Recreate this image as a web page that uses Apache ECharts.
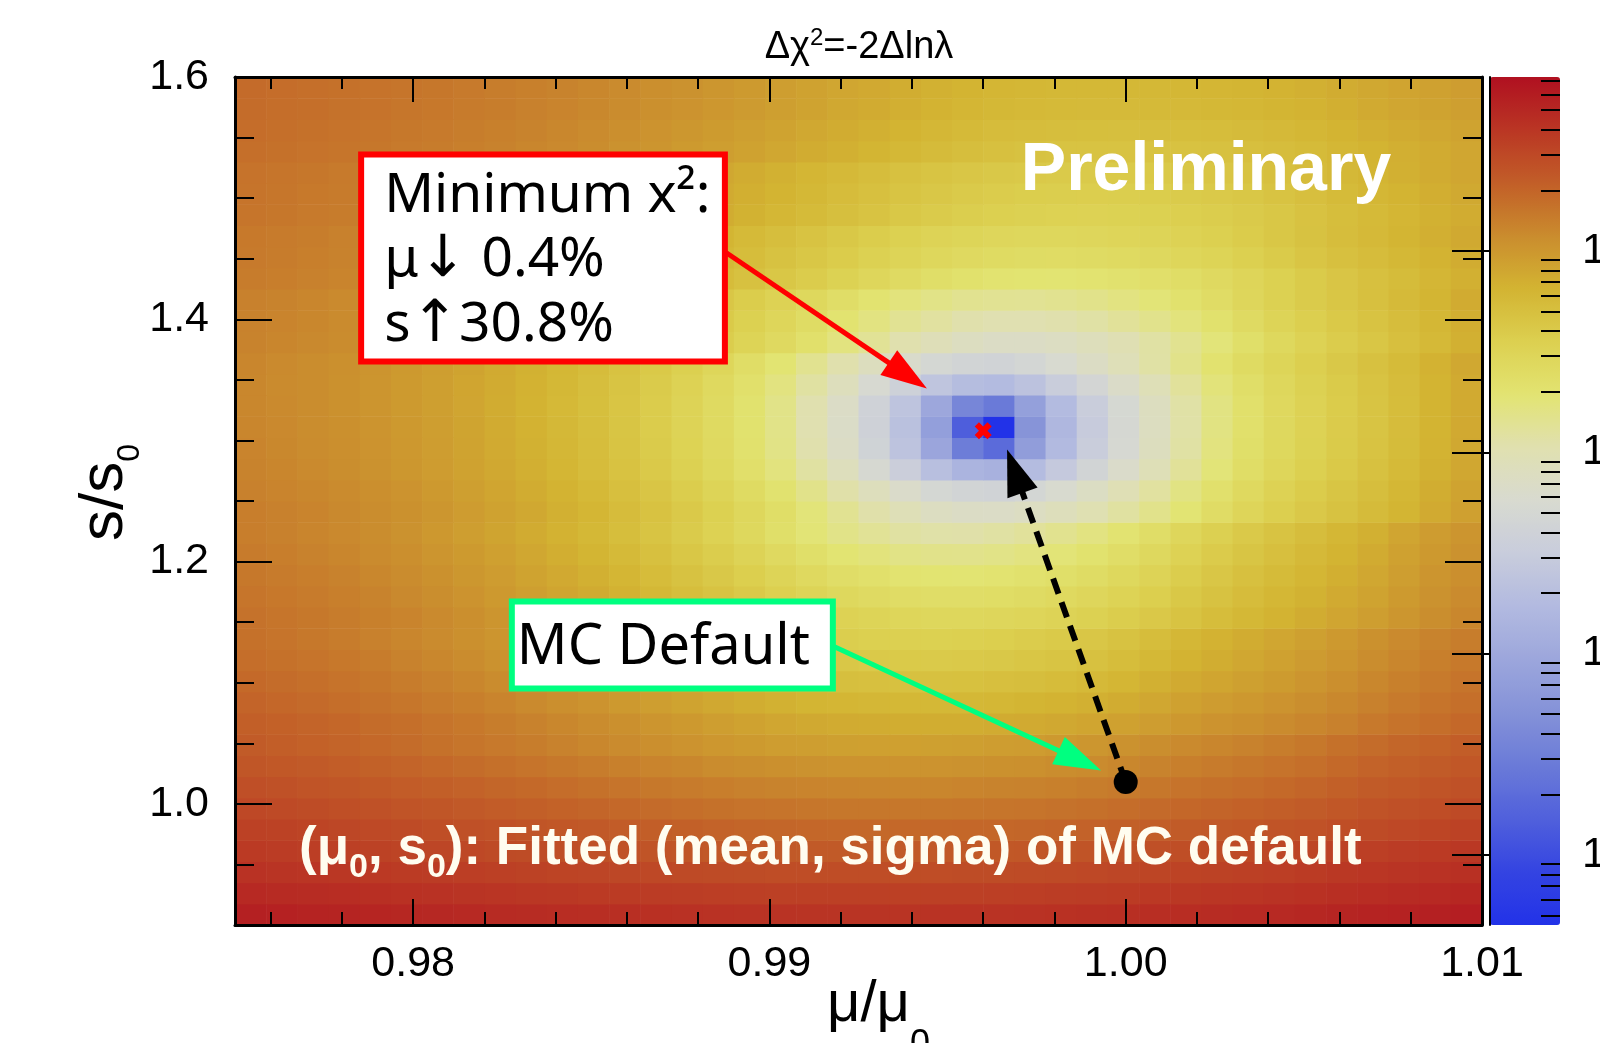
<!DOCTYPE html>
<html><head><meta charset="utf-8">
<script src="https://cdn.jsdelivr.net/npm/echarts@6/dist/echarts.min.js"></script>
<style>html,body{margin:0;padding:0;background:#fff}#c{width:1600px;height:1043px}</style>
</head><body><div id="c"></div><script>
// ---------------- data ----------------
const muRange = [0.975, 1.01];       // mu/mu0 axis range (40 bins)
const sRange = [0.9, 1.6];           // s/s0 axis range (40 bins)
const nMuBins = 40, nSBins = 40;
const xMajorTicks = [0.98, 0.99, 1.00, 1.01];
const xMinorTicks = [0.976, 0.978, 0.982, 0.984, 0.986, 0.988, 0.992, 0.994, 0.996, 0.998, 1.002, 1.004, 1.006, 1.008];
const yMajorTicks = [1.0, 1.2, 1.4, 1.6];
const yMinorTicks = [0.95, 1.05, 1.1, 1.15, 1.25, 1.3, 1.35, 1.45, 1.5, 1.55];
const zRangeLog10 = [1.652, 5.864];  // colour scale (log10 of delta chi2)
const zMajorExp = [2, 3, 4, 5];
const zMinorTicks = [50,60,70,80,90, 200,300,400,500,600,700,800,900, 2000,3000,4000,5000,6000,7000,8000,9000,
  20000,30000,40000,50000,60000,70000,80000,90000, 200000,300000,400000,500000,600000,700000];
const fitMinimum = [0.996, 1.308];
const mcDefault = [1.0, 1.018];
// delta chi2 per cell, row 0 = lowest s/s0 bin, column 0 = lowest mu/mu0 bin
const chi2Rows = [
[565000,555000,544000,532000,521000,510000,499000,489000,479000,470000,460000,452000,444000,436000,429000,424000,420000,417000,415000,414000,414000,415000,416000,418000,421000,425000,431000,438000,446000,454000,462000,470000,480000,492000,508000,524000,538000,552000,567000,581000],
[489000,479000,468000,457000,446000,435000,424000,414000,405000,395000,386000,378000,370000,363000,356000,351000,347000,344000,342000,341000,341000,342000,343000,345000,348000,352000,357000,364000,372000,380000,388000,396000,406000,417000,433000,449000,463000,477000,491000,505000],
[425000,415000,405000,394000,383000,372000,362000,352000,342000,333000,324000,316000,309000,302000,295000,289000,285000,283000,281000,280000,280000,281000,282000,284000,287000,291000,296000,303000,311000,318000,326000,334000,344000,355000,370000,386000,399000,413000,427000,441000],
[373000,364000,354000,343000,332000,322000,311000,302000,292000,284000,275000,266000,259000,252000,245000,240000,236000,234000,232000,231000,231000,232000,233000,235000,238000,242000,247000,254000,261000,269000,276000,284000,294000,305000,320000,335000,348000,362000,376000,389000],
[339000,330000,321000,310000,300000,289000,279000,269000,259000,250000,242000,233000,225000,217000,211000,204000,199000,195000,193000,191000,190000,190000,191000,192000,194000,197000,200000,205000,212000,219000,227000,234000,242000,252000,262000,277000,292000,305000,318000,332000],
[303000,294000,285000,275000,264000,254000,244000,234000,225000,216000,207000,199000,191000,184000,177000,170000,165000,162000,159000,157000,157000,157000,157000,159000,160000,163000,167000,172000,178000,185000,193000,200000,208000,217000,228000,242000,256000,270000,283000,296000],
[272000,264000,255000,245000,235000,224000,215000,205000,196000,187000,179000,170000,162000,155000,149000,142000,138000,134000,132000,130000,129000,129000,129000,131000,133000,135000,139000,144000,150000,157000,164000,171000,179000,188000,199000,213000,227000,240000,253000,266000],
[247000,239000,230000,220000,210000,200000,191000,181000,172000,163000,155000,147000,139000,132000,126000,119000,115000,111000,109000,107000,106000,106000,107000,108000,110000,112000,116000,121000,127000,134000,141000,148000,156000,165000,175000,189000,203000,215000,228000,241000],
[226000,218000,209000,200000,190000,180000,170000,161000,152000,144000,135000,127000,120000,113000,107000,100000,95800,92200,90000,88200,87500,87300,88000,89200,91100,93600,97000,102000,108000,115000,122000,129000,136000,145000,155000,169000,182000,195000,207000,220000],
[216000,208000,200000,192000,182000,173000,163000,154000,144000,135000,127000,119000,111000,104000,97100,90900,84800,80200,76700,74500,72800,72000,71900,72500,73700,75600,78000,81400,86000,92200,98900,106000,112000,120000,128000,138000,152000,165000,177000,190000],
[201000,193000,186000,177000,168000,158000,149000,140000,131000,122000,114000,106000,97900,90600,84000,77900,71900,67500,63900,61800,60100,59400,59200,59800,61100,62900,65300,68600,73100,79200,85800,92500,99100,106000,115000,125000,138000,151000,163000,175000],
[188000,181000,173000,165000,156000,146000,137000,128000,119000,110000,102000,94500,86800,79600,73100,67100,61200,56800,53300,51200,49500,48800,48700,49300,50500,52300,54600,57900,62400,68300,74900,81400,88000,95100,103000,113000,126000,139000,151000,163000],
[177000,170000,163000,154000,146000,136000,127000,118000,109000,101000,92800,85200,77600,70500,64100,58300,52400,48100,44700,42600,41000,40300,40100,40700,41900,43700,46000,49200,53600,59400,65900,72300,78700,85800,94000,103000,116000,129000,141000,153000],
[170000,163000,155000,147000,138000,129000,120000,111000,103000,94400,86600,79100,71600,64700,58300,52600,46800,42500,39200,37100,35500,34800,34700,35300,36400,38200,40500,43600,48000,53700,60100,66400,72700,79700,87700,97000,110000,122000,134000,145000],
[168000,161000,155000,147000,139000,131000,122000,113000,104000,95500,87300,79600,72200,64900,58000,51800,46100,40400,36300,33000,30900,29300,28700,28500,29100,30200,32000,34200,37300,41600,47200,53500,59700,66000,72800,80800,89800,102000,115000,126000],
[161000,154000,148000,140000,133000,124000,115000,106000,97900,89500,81500,73900,66600,59300,52600,46400,40800,35200,31100,27900,25800,24300,23600,23500,24100,25200,26900,29100,32100,36400,42000,48100,54300,60400,67100,75000,83900,96200,108000,120000],
[155000,148000,142000,135000,127000,119000,110000,101000,92600,84300,76400,68900,61700,54600,48000,41900,36400,30900,26800,23600,21700,20100,19500,19300,19900,21000,22700,24900,27800,32000,37500,43500,49600,55700,62300,70000,78800,90900,103000,114000],
[149000,142000,136000,129000,121000,113000,104000,95500,87300,79200,71400,64000,56900,49900,43300,37400,31900,26500,22500,19400,17400,15900,15300,15100,15700,16800,18400,20600,23500,27600,33000,39000,45000,50900,57500,65100,73700,85700,97600,108000],
[143000,137000,130000,123000,116000,108000,99100,90600,82500,74500,66800,59500,52500,45600,39100,33300,27900,22500,18600,15500,13600,12100,11400,11300,11900,12900,14500,16700,19600,23600,29000,34900,40800,46600,53100,60600,69100,80900,92700,103000],
[143000,137000,131000,124000,117000,110000,102000,93500,85000,77100,69200,61600,54400,47600,40700,34400,28500,23300,18000,14100,11100,9170,7680,7050,6950,7470,8530,10100,12200,15100,19000,24300,30100,35900,41700,48100,55500,63900,75500,87200],
[138000,132000,126000,120000,113000,106000,97900,89600,81300,73500,65700,58200,51100,44400,37600,31400,25600,20400,15200,11300,8330,6460,4990,4370,4270,4790,5830,7390,9480,12300,16300,21500,27200,32900,38700,44900,52200,60500,72000,83400],
[134000,128000,122000,115000,109000,101000,93700,85500,77300,69600,61900,54500,47500,40800,34200,28000,22400,17200,12100,8290,5320,3470,2020,1410,1310,1820,2850,4390,6450,9220,13100,18200,23900,29500,35200,41400,48500,56800,68100,79400],
[131000,125000,119000,113000,106000,99000,91400,83300,75200,67600,60000,52700,45800,39200,32600,26500,21000,15900,10800,7090,4150,2330,904,296,195,702,1720,3230,5260,8000,11800,16900,22500,28100,33600,39700,46800,54900,66000,77200],
[129000,123000,117000,111000,105000,97500,90000,82000,74000,66500,59000,51800,45000,38500,32000,26000,20500,15500,10500,6850,3950,2150,745,145,45,545,1550,3050,5050,7750,11500,16500,22000,27500,33000,39000,46000,54000,65000,76000],
[127000,122000,116000,110000,103000,96400,89000,81100,73200,65800,58400,51300,44600,38200,31800,25900,20500,15500,10600,6980,4120,2350,965,374,275,768,1750,3230,5210,7870,11600,16500,22000,27400,32800,38700,45600,53500,64400,75200],
[127000,121000,116000,110000,103000,96600,89300,81500,73800,66500,59200,52200,45600,39200,32900,27100,21700,16800,12000,8380,5550,3800,2440,1860,1760,2250,3220,4680,6630,9250,12900,17800,23200,28500,33900,39700,46500,54300,65000,75700],
[128000,122000,117000,111000,105000,97900,90800,83100,75400,68200,61000,54100,47500,41300,35000,29300,24000,19200,14400,10800,8010,6280,4940,4360,4270,4750,5700,7150,9070,11700,15300,20200,25400,30700,36000,41800,48500,56200,66700,77300],
[134000,129000,124000,118000,112000,106000,99500,92400,84800,77200,70100,63000,56200,49700,43500,37400,31700,26500,21700,17000,13500,10700,9020,7690,7120,7030,7500,8450,9880,11800,14300,17900,22700,27900,33100,38300,44000,50700,58200,68700],
[136000,131000,126000,120000,114000,108000,102000,94600,87100,79600,72600,65600,58800,52500,46400,40300,34700,29500,24800,20100,16700,13900,12300,10900,10400,10300,10800,11700,13100,15000,17500,21100,25800,30900,36100,41200,46800,53400,60900,71200],
[138000,133000,128000,122000,116000,110000,104000,97100,89700,82300,75300,68400,61700,55400,49400,43400,37900,32800,28100,23500,20100,17400,15700,14400,13900,13800,14300,15200,16600,18400,20900,24400,29100,34200,39200,44300,49900,56400,63800,73900],
[147000,142000,137000,132000,126000,121000,115000,109000,102000,94300,87000,80200,73300,66700,60500,54600,48600,43200,38100,33600,29000,25700,23000,21400,20100,19500,19400,19900,20800,22200,24000,26500,29900,34500,39500,44500,49600,55000,61400,68800],
[151000,146000,141000,136000,130000,125000,119000,113000,106000,98700,91500,84700,78000,71500,65300,59500,53600,48200,43200,38700,34200,30900,28300,26600,25400,24800,24700,25200,26100,27500,29300,31700,35100,39600,44600,49500,54500,59900,66200,73500],
[153000,148000,144000,138000,133000,128000,122000,116000,109000,102000,94500,87800,81100,74700,68600,62800,57000,51700,46800,42300,37900,34600,32000,30400,29200,28600,28500,29000,29900,31200,33000,35400,38800,43200,48100,53000,57900,63300,69500,76700],
[161000,156000,151000,147000,142000,136000,131000,125000,119000,112000,105000,98300,91700,85100,78700,72700,67000,61300,56000,51200,46800,42400,39100,36600,35000,33800,33200,33100,33600,34500,35800,37600,39900,43200,47600,52500,57300,62200,67500,73600],
[163000,158000,153000,149000,144000,138000,133000,128000,121000,115000,108000,101000,94400,87900,81600,75700,70000,64400,59100,54400,50000,45700,42500,39900,38400,37200,36600,36500,37000,37900,39200,40900,43300,46500,50900,55700,60500,65200,70500,76600],
[165000,160000,156000,151000,146000,141000,136000,130000,124000,118000,111000,104000,97400,90900,84700,78800,73200,67700,62500,57800,53400,49200,46000,43500,41900,40700,40200,40100,40600,41400,42700,44500,46800,50000,54300,59000,63800,68500,73700,79700],
[174000,170000,165000,160000,156000,151000,146000,141000,135000,129000,123000,116000,109000,103000,96600,90500,84700,79200,73600,68500,63800,59600,55400,52200,49800,48200,47000,46500,46400,46900,47700,49000,50700,53000,56200,60400,65100,69800,74500,79600],
[178000,173000,169000,164000,160000,155000,150000,145000,139000,133000,127000,120000,114000,107000,101000,94800,89100,83600,78100,73100,68500,64300,60100,56900,54500,53000,51800,51300,51200,51700,52500,53800,55500,57700,60900,65100,69700,74400,79000,84000],
[181000,177000,173000,168000,164000,159000,154000,149000,144000,138000,132000,125000,118000,112000,106000,99700,94000,88600,83200,78200,73700,69500,65300,62300,59900,58400,57200,56700,56600,57100,57900,59100,60800,63100,66200,70300,74900,79500,84100,89000],
[183000,179000,174000,170000,165000,160000,156000,151000,145000,139000,133000,127000,120000,114000,108000,102000,96200,90900,85500,80600,76100,72000,67800,64800,62400,61000,59800,59300,59200,59700,60500,61700,63400,65600,68700,72800,77300,81900,86400,91300]
];
// annotation anchors (data coordinates)
const minBoxCorners = [[0.97854, 1.53603], [0.98875, 1.36515]];
const mcBoxCorners = [[0.98277, 1.16704], [0.99178, 1.09522]];
const minArrow = [[0.98878, 1.45514], [0.99442, 1.34288]];
const mcArrow = [[0.99181, 1.1299], [0.99931, 1.02754]];
const shiftArrow = [mcDefault, [0.99667, 1.2925]];

const paletteStops = ['#2232e8','#3444e2','#5060dc','#6a7ad8','#8492d8','#9ca6dc','#b2bae0','#c8ccdc','#d8dad0',
  '#e0e0b0','#e2e472','#dcd050','#d3b432','#ca8c2e','#c25e28','#ba3624','#b01020'];

// ---------------- build ----------------
const dMu = (muRange[1] - muRange[0]) / nMuBins;
const dS = (sRange[1] - sRange[0]) / nSBins;
const cells = [];
chi2Rows.forEach((row, j) => row.forEach((v, i) => {
  cells.push([muRange[0] + i * dMu, muRange[0] + (i + 1) * dMu, sRange[0] + j * dS, sRange[0] + (j + 1) * dS, v, Math.log10(v)]);
}));

const FONT = 'Liberation Sans';
function frameAxis(kind, position, tickValues, tickLen, withLabels, withLine) {
  const isX = kind === 'x';
  return {
    type: 'value', gridIndex: 0, position: position,
    min: isX ? muRange[0] : sRange[0], max: isX ? muRange[1] : sRange[1],
    z: 5,
    axisLine: { show: withLine, onZero: false, lineStyle: { color: '#000', width: 3 } },
    axisTick: { show: true, inside: true, length: tickLen, customValues: tickValues, lineStyle: { color: '#000', width: 2 } },
    axisLabel: withLabels ? {
      show: true, customValues: tickValues, margin: isX ? 18 : 26, color: '#000',
      fontFamily: FONT, fontSize: 43,
      formatter: v => isX ? v.toFixed(2) : v.toFixed(1)
    } : { show: false },
    splitLine: { show: false }
  };
}

const option = {
  animation: false,
  backgroundColor: '#fff',
  grid: [
    { left: 235, top: 77, width: 1247, height: 848, show: false, containLabel: false, outerBoundsMode: 'none' },
    { left: 1490, top: 77, width: 70, height: 848, show: false, containLabel: false, outerBoundsMode: 'none' }
  ],
  xAxis: [
    frameAxis('x', 'bottom', xMajorTicks, 26, true, true),
    frameAxis('x', 'bottom', xMinorTicks, 13, false, false),
    frameAxis('x', 'top', xMajorTicks, 25, false, true),
    frameAxis('x', 'top', xMinorTicks, 12, false, false),
    { type: 'value', gridIndex: 1, min: 0, max: 1, show: false }
  ],
  yAxis: [
    frameAxis('y', 'left', yMajorTicks, 37, true, true),
    frameAxis('y', 'left', yMinorTicks, 19, false, false),
    frameAxis('y', 'right', yMajorTicks, 37, false, true),
    frameAxis('y', 'right', yMinorTicks, 19, false, false),
    {
      type: 'value', gridIndex: 1, position: 'right', min: zRangeLog10[0], max: zRangeLog10[1], z: 5,
      axisLine: { show: true, lineStyle: { color: '#000', width: 2 } },
      axisTick: { show: true, inside: true, length: 38, customValues: zMajorExp, lineStyle: { color: '#000', width: 2 } },
      axisLabel: {
        show: true, customValues: zMajorExp, margin: 22, color: '#000', fontFamily: FONT, fontSize: 43,
        formatter: v => '10{e|' + Math.round(v) + '}',
        rich: { e: { fontSize: 26, fontFamily: FONT, color: '#000', verticalAlign: 'top' } }
      },
      splitLine: { show: false }
    },
    {
      type: 'value', gridIndex: 1, position: 'right', min: zRangeLog10[0], max: zRangeLog10[1], z: 5,
      axisLine: { show: false },
      axisTick: { show: true, inside: true, length: 19, customValues: zMinorTicks.map(v => Math.log10(v)), lineStyle: { color: '#000', width: 2 } },
      axisLabel: { show: false },
      splitLine: { show: false }
    }
  ],
  visualMap: {
    type: 'continuous', seriesIndex: 0, dimension: 5,
    min: zRangeLog10[0], max: zRangeLog10[1],
    inRange: { color: paletteStops },
    orient: 'vertical', left: 1490, top: 77, itemWidth: 70, itemHeight: 848,
    padding: 0, text: null, calculable: false, hoverLink: false, show: true
  },
  series: [
    {
      type: 'custom', name: 'dchi2', xAxisIndex: 0, yAxisIndex: 0, clip: true, z: 2,
      dimensions: ['muLo', 'muHi', 'sLo', 'sHi', 'dchi2', 'log10dchi2'],
      encode: { x: [0, 1], y: [2, 3] },
      data: cells,
      renderItem: function (params, api) {
        const p0 = api.coord([api.value(0), api.value(3)]);
        const p1 = api.coord([api.value(1), api.value(2)]);
        return {
          type: 'rect',
          shape: { x: p0[0], y: p0[1], width: p1[0] - p0[0] + 0.6, height: p1[1] - p0[1] + 0.6 },
          style: { fill: api.visual('color') }
        };
      }
    },
    {
      type: 'scatter', name: 'MC default', xAxisIndex: 0, yAxisIndex: 0, z: 60,
      data: [mcDefault], symbol: 'circle', symbolSize: 24, itemStyle: { color: '#000', opacity: 1 }
    },
    {
      type: 'scatter', name: 'fit minimum', xAxisIndex: 0, yAxisIndex: 0, z: 60,
      data: [fitMinimum],
      symbol: 'path://M0,2.5 L2.5,0 L5,2.5 L7.5,0 L10,2.5 L7.5,5 L10,7.5 L7.5,10 L5,7.5 L2.5,10 L0,7.5 L2.5,5 Z',
      symbolSize: 17, itemStyle: { color: '#ff0000', opacity: 1 }
    }
  ]
};

const chart = echarts.init(document.getElementById('c'), null, { renderer: 'canvas', width: 1600, height: 1043 });
chart.setOption(option);

const px = p => chart.convertToPixel({ gridIndex: 0 }, p);
function arrow(from, to, color, lw, headLen, headW, dash) {
  const a = px(from), b = px(to);
  const dx = b[0] - a[0], dy = b[1] - a[1], L = Math.hypot(dx, dy), ux = dx / L, uy = dy / L;
  const bx = b[0] - ux * headLen, by = b[1] - uy * headLen, nx = -uy, ny = ux;
  return [
    { type: 'line', z: 50, shape: { x1: a[0], y1: a[1], x2: bx + ux * 2, y2: by + uy * 2 },
      style: { stroke: color, lineWidth: lw, lineDash: dash || null } },
    { type: 'polygon', z: 50, shape: { points: [[b[0], b[1]], [bx + nx * headW / 2, by + ny * headW / 2], [bx - nx * headW / 2, by - ny * headW / 2]] },
      style: { fill: color } }
  ];
}
function boxRect(corners) {
  const a = px(corners[0]), b = px(corners[1]);
  return { x: a[0], y: a[1], width: b[0] - a[0], height: b[1] - a[1] };
}
const rb = boxRect(minBoxCorners), gb = boxRect(mcBoxCorners);
const BOXFONT = '55px "Noto Sans"';
const arrowRich = { ar: { fontFamily: 'DejaVu Sans', fontSize: 58, fill: '#000' } };
const g = [];
g.push({ type: 'text', x: 859, y: 48, style: {
  text: 'Δχ{sup|2}=-2Δlnλ', font: '38px "' + FONT + '"', lineHeight: 44, fill: '#000', align: 'center', verticalAlign: 'middle',
  rich: { sup: { fontSize: 24, fontFamily: FONT, lineHeight: 24, verticalAlign: 'top', fill: '#000' } } } });
g.push({ type: 'text', x: 878.5, y: 1005, style: {
  text: 'μ/μ{sub|0}', font: '58px "' + FONT + '"', lineHeight: 116, fill: '#000', align: 'center', verticalAlign: 'middle',
  rich: { sub: { fontSize: 36, fontFamily: FONT, lineHeight: 36, verticalAlign: 'bottom', fill: '#000' } } } });
g.push({ type: 'text', x: 105, y: 492.5, rotation: Math.PI / 2, style: {
  text: 's/s{sub|0}', font: '62px "' + FONT + '"', lineHeight: 82, fill: '#000', align: 'center', verticalAlign: 'middle',
  rich: { sub: { fontSize: 32, fontFamily: FONT, lineHeight: 32, verticalAlign: 'bottom', fill: '#000' } } } });
g.push({ type: 'text', x: 1206, y: 171, z: 40, style: { text: 'Preliminary', font: 'bold 68px "' + FONT + '"', fill: '#ffffff', align: 'center', verticalAlign: 'middle' } });
g.push({ type: 'text', x: 299, y: 849, z: 40, style: {
  text: '(μ{sub|0}, s{sub|0}): Fitted (mean, sigma) of MC default', font: 'bold 53px "' + FONT + '"', lineHeight: 72,
  fill: '#fffdf0', align: 'left', verticalAlign: 'middle',
  rich: { sub: { fontSize: 34, fontWeight: 'bold', fontFamily: FONT, lineHeight: 34, verticalAlign: 'bottom', fill: '#fffdf0' } } } });
arrow(minArrow[0], minArrow[1], '#ff0000', 5, 46, 30).forEach(e => g.push(e));
arrow(mcArrow[0], mcArrow[1], '#00ff80', 5, 47, 30).forEach(e => g.push(e));
arrow(shiftArrow[0], shiftArrow[1], '#000000', 6, 46, 32, [16, 9]).forEach(e => g.push(e));
g.push({ type: 'rect', z: 51, shape: rb, style: { fill: '#fff', stroke: '#ff0000', lineWidth: 6 } });
g.push({ type: 'text', z: 52, x: rb.x + 23, y: rb.y + 42, style: { text: 'Minimum x²:', font: BOXFONT, fill: '#000', verticalAlign: 'middle' } });
g.push({ type: 'text', z: 52, x: rb.x + 23, y: rb.y + 106, style: { text: 'μ{ar|↓} 0.4%', font: BOXFONT, fill: '#000', verticalAlign: 'middle', rich: arrowRich } });
g.push({ type: 'text', z: 52, x: rb.x + 23, y: rb.y + 171, style: { text: 's{ar|↑}30.8%', font: BOXFONT, fill: '#000', verticalAlign: 'middle', rich: arrowRich } });
g.push({ type: 'rect', z: 51, shape: gb, style: { fill: '#fff', stroke: '#00ff80', lineWidth: 6 } });
g.push({ type: 'text', z: 52, x: gb.x + 5, y: gb.y + 47, style: { text: 'MC Default', font: '56px "Noto Sans"', fill: '#000', verticalAlign: 'middle' } });
chart.setOption({ graphic: { elements: g } });
</script></body></html>
